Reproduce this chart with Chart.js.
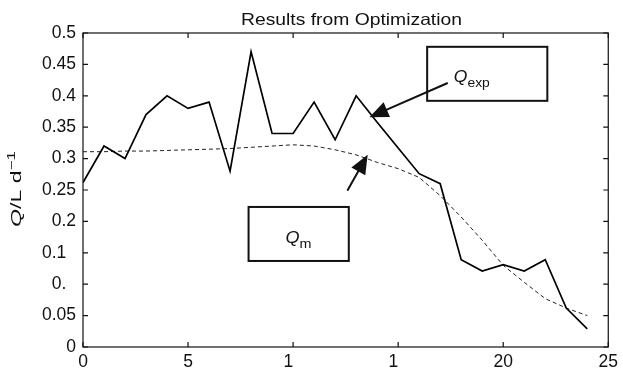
<!DOCTYPE html>
<html>
<head>
<meta charset="utf-8">
<script src="https://cdn.jsdelivr.net/npm/chart.js@4.4.1/dist/chart.umd.min.js"></script>
<style>
  html, body { margin: 0; padding: 0; background: #fff; }
  canvas { display: block; }
</style>
</head>
<body>
<canvas id="chart" width="623" height="370"></canvas>
<script>
// Time axis (days) and the two discharge series
const days = [0, 1, 2, 3, 4, 5, 6, 7, 8, 9, 10, 11, 12, 13, 14, 15, 16, 17, 18, 19, 20, 21, 22, 23, 24];
const qExp = [0.262, 0.32, 0.30, 0.37, 0.40, 0.38, 0.39, 0.28, 0.47, 0.34, 0.34, 0.39, 0.33, 0.40, 0.358,
              0.317, 0.276, 0.26, 0.139, 0.121, 0.131, 0.121, 0.139, 0.062, 0.029];
const qModel = [0.311, 0.311, 0.312, 0.312, 0.313, 0.314, 0.315, 0.316, 0.318, 0.320, 0.322, 0.320, 0.314,
                0.306, 0.294, 0.284, 0.270, 0.241, 0.207, 0.170, 0.130, 0.103, 0.077, 0.062, 0.050];

// Tick labels as printed on the axes
const xTickLabels = ['0', '5', '1  ', '1  ', '20', '25'];
const yTickLabels = ['0', '0.05', '0.  ', '0.1  ', '0.2', '0.25', '0.3', '0.35', '0.4', '0.45', '0.5'];

// Callout boxes and arrows, in data units
const calloutBoxes = [
  { x0: 16.38, x1: 22.1, y0: 0.478, y1: 0.392, sub: 'exp', tx: 17.65, ty: 0.422, tw: 36 },
  { x0: 7.88, x1: 12.65, y0: 0.223, y1: 0.137, sub: 'm', tx: 9.64, ty: 0.165, tw: 26 }
];
const calloutArrows = [
  { fromX: 17.33, fromY: 0.420, toX: 13.63, toY: 0.366 },
  { fromX: 12.60, fromY: 0.250, toX: 13.55, toY: 0.306 }
];

const FONT = "'Liberation Sans', Arial, Helvetica, sans-serif";

// Draws a sequence of text runs, optionally stretched to a given width
function drawRuns(ctx, runs, x, y, targetWidth) {
  let total = 0;
  runs.forEach(r => { ctx.font = r.font; r.w = ctx.measureText(r.text).width; total += r.w; });
  const s = targetWidth ? targetWidth / total : 1;
  ctx.save();
  ctx.translate(x, y);
  ctx.scale(s, 1);
  ctx.textAlign = 'left';
  ctx.textBaseline = 'alphabetic';
  let cx = 0;
  runs.forEach(r => { ctx.font = r.font; ctx.fillText(r.text, cx, r.dy || 0); cx += r.w; });
  ctx.restore();
}

function drawArrow(ctx, x1, y1, x2, y2) {
  const ang = Math.atan2(y2 - y1, x2 - x1);
  const len = 19, half = 8;
  const bx = x2 - len * Math.cos(ang), by = y2 - len * Math.sin(ang);
  ctx.beginPath();
  ctx.moveTo(x1, y1);
  ctx.lineTo(bx, by);
  ctx.stroke();
  ctx.beginPath();
  ctx.moveTo(x2, y2);
  ctx.lineTo(bx + half * Math.sin(ang), by - half * Math.cos(ang));
  ctx.lineTo(bx - half * Math.sin(ang), by + half * Math.cos(ang));
  ctx.closePath();
  ctx.fill();
}

// Box frame with inward ticks, callouts and titles
const decorations = {
  id: 'decorations',
  afterDatasetsDraw(chart) {
    const { ctx, chartArea: a, scales: { x, y } } = chart;
    ctx.save();
    ctx.strokeStyle = '#111';
    ctx.fillStyle = '#111';
    ctx.lineWidth = 1.2;
    ctx.strokeRect(a.left, a.top, a.right - a.left, a.bottom - a.top);
    const tl = 5;
    ctx.beginPath();
    x.ticks.forEach(t => {
      const px = x.getPixelForValue(t.value);
      ctx.moveTo(px, a.bottom); ctx.lineTo(px, a.bottom - tl);
      ctx.moveTo(px, a.top); ctx.lineTo(px, a.top + tl);
    });
    y.ticks.forEach(t => {
      const py = y.getPixelForValue(t.value);
      ctx.moveTo(a.left, py); ctx.lineTo(a.left + tl, py);
      ctx.moveTo(a.right, py); ctx.lineTo(a.right - tl, py);
    });
    ctx.stroke();

    // callout boxes
    ctx.lineWidth = 2;
    calloutBoxes.forEach(b => {
      const l = x.getPixelForValue(b.x0), r = x.getPixelForValue(b.x1);
      const t = y.getPixelForValue(b.y0), btm = y.getPixelForValue(b.y1);
      ctx.strokeRect(l, t, r - l, btm - t);
      drawRuns(ctx, [
        { text: 'Q', font: 'italic 17px ' + FONT },
        { text: b.sub, font: '13.5px ' + FONT, dy: 5 }
      ], x.getPixelForValue(b.tx), y.getPixelForValue(b.ty), b.tw);
    });

    // arrows
    ctx.lineWidth = 2;
    ctx.lineCap = 'round';
    calloutArrows.forEach(ar => {
      drawArrow(ctx, x.getPixelForValue(ar.fromX), y.getPixelForValue(ar.fromY),
                x.getPixelForValue(ar.toX), y.getPixelForValue(ar.toY));
    });
    ctx.restore();

    // chart title
    ctx.save();
    ctx.fillStyle = '#111';
    drawRuns(ctx, [{ text: 'Results from Optimization', font: '16.5px ' + FONT }], 241, 25, 221);
    ctx.restore();

    // y-axis title: Q/L d^-1
    ctx.save();
    ctx.fillStyle = '#111';
    ctx.translate(21, 227);
    ctx.rotate(-Math.PI / 2);
    drawRuns(ctx, [
      { text: 'Q', font: 'italic 15px ' + FONT },
      { text: '/L d', font: '15px ' + FONT },
      { text: '\u22121', font: '11px ' + FONT, dy: -6 }
    ], 0, 0, 76);
    ctx.restore();
  }
};

const toPoints = vals => days.map((d, i) => ({ x: d, y: vals[i] }));

new Chart(document.getElementById('chart'), {
  type: 'line',
  data: {
    datasets: [
      {
        label: 'Qexp',
        data: toPoints(qExp),
        borderColor: '#000',
        borderWidth: 1.7,
        pointRadius: 0,
        tension: 0,
        fill: false
      },
      {
        label: 'Qm',
        data: toPoints(qModel),
        borderColor: '#222',
        borderWidth: 1,
        borderDash: [4, 3],
        pointRadius: 0,
        tension: 0,
        fill: false
      }
    ]
  },
  options: {
    responsive: false,
    animation: false,
    devicePixelRatio: 1,
    layout: { padding: { top: 33, right: 11, left: 0, bottom: 0 } },
    plugins: {
      legend: { display: false },
      title: { display: false },
      tooltip: { enabled: false }
    },
    scales: {
      x: {
        type: 'linear',
        min: 0,
        max: 25,
        afterFit(s) { s.height = 23; },
        grid: { display: false, drawTicks: false },
        border: { display: false },
        ticks: {
          stepSize: 5,
          padding: 5,
          maxRotation: 0,
          autoSkip: false,
          color: '#111',
          font: { family: FONT, size: 17.5 },
          callback: (v, i) => xTickLabels[i]
        }
      },
      y: {
        min: 0,
        max: 0.5,
        afterFit(s) { s.width = 83; },
        grid: { display: false, drawTicks: false },
        border: { display: false },
        ticks: {
          stepSize: 0.05,
          padding: 7,
          autoSkip: false,
          color: '#111',
          font: { family: FONT, size: 17.5 },
          callback: (v, i) => yTickLabels[i]
        }
      }
    }
  },
  plugins: [decorations]
});
</script>
</body>
</html>
